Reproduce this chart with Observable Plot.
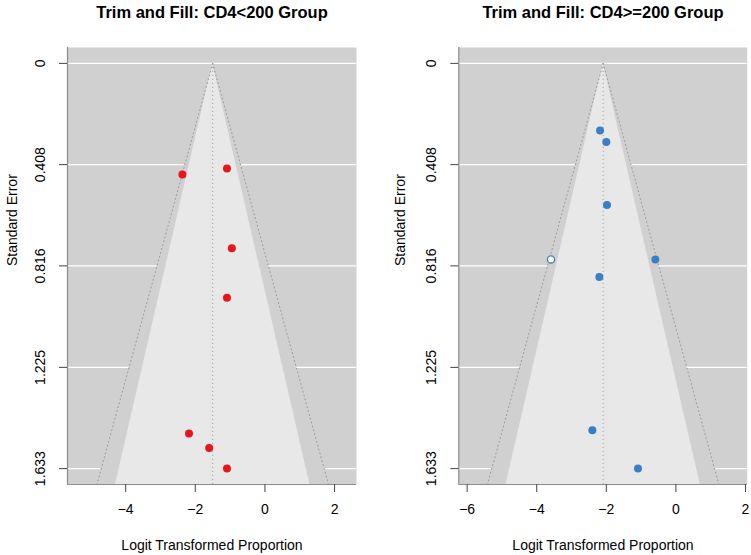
<!DOCTYPE html>
<html>
<head>
<meta charset="utf-8">
<script src="https://cdn.jsdelivr.net/npm/d3@7"></script>
<script src="https://cdn.jsdelivr.net/npm/@observablehq/plot@0.6"></script>
<style>
  html, body { margin: 0; padding: 0; background: #fff; }
  #wrap { position: relative; width: 751px; height: 555px; }
  .panel { position: absolute; top: 0; }
  .panel svg { display: block; font-family: "Liberation Sans", Arial, Helvetica, sans-serif; }
</style>
</head>
<body>
<div id="wrap">
  <div class="panel" id="left" style="left:0px"></div>
  <div class="panel" id="right" style="left:375px"></div>
</div>
<script>
// Standard-error axis (shared by both funnels)
const seTicks = [0, 0.408, 0.816, 1.225, 1.633];
const seTickLabels = ["0", "0.408", "0.816", "1.225", "1.633"];
const seRange = [1.697, -0.064];

// CD4<200 group: observed studies (logit proportion, standard error)
const lowYi = [-1.09, -2.37, -0.95, -1.09, -2.18, -1.60, -1.09];
const lowSe = [0.424, 0.448, 0.745, 0.944, 1.491, 1.550, 1.633];
const lowEstimate = -1.50;
const lowXDomain = [-5.67, 2.63];
const lowXTicks = [-4, -2, 0, 2];

// CD4>=200 group: observed studies and the study filled in by trim and fill
const highYi = [-2.18, -2.00, -1.98, -0.59, -2.20, -2.40, -1.09];
const highSe = [0.270, 0.317, 0.571, 0.790, 0.861, 1.478, 1.633];
const highFilledYi = [-3.59];
const highFilledSe = [0.790];
const highEstimate = -2.09;
const highXDomain = [-6.24, 2.05];
const highXTicks = [-6, -4, -2, 0, 2];

// Pseudo-confidence levels of the funnel (90% shaded, 95% dotted)
const z90 = 1.645;
const z95 = 1.96;

const BG = "#d0d0d0";
const INNER = "#e8e8e8";
const AXIS = "#8c8c8c";
const GUIDE = "#999999";
const LABEL_SIZE = 14;

function funnel({title, width, marginLeft, marginRight, xDomain, xTicks, estimate,
                 yi, se, fillYi = [], fillSe = [], color, labelDx}) {
  const studies = yi.map((v, i) => ({yi: v, se: se[i]}));
  const filled = fillYi.map((v, i) => ({yi: v, se: fillSe[i]}));
  const seMax = seRange[0];
  const edge = [{se: 0}, {se: seMax}];
  const ticks = seTicks.map((v, i) => ({se: v, label: seTickLabels[i]}));
  const dotted = {stroke: GUIDE, strokeWidth: 1, strokeDasharray: "1,3"};
  return Plot.plot({
    width,
    height: 555,
    marginTop: 47,
    marginBottom: 71,
    marginLeft,
    marginRight,
    style: {fontFamily: "Liberation Sans, Arial, Helvetica, sans-serif", fontSize: LABEL_SIZE + "px", color: "#000", background: "white"},
    x: {domain: xDomain, label: null},
    y: {domain: seRange, label: null},
    marks: [
      Plot.frame({fill: BG, stroke: null}),
      Plot.ruleY(seTicks, {stroke: "white", strokeWidth: 1.3}),
      // 95% region, then the 90% region on top
      Plot.areaX(edge, {y: "se", x1: d => estimate - z95 * d.se, x2: d => estimate + z95 * d.se, fill: BG}),
      Plot.areaX(edge, {y: "se", x1: d => estimate - z90 * d.se, x2: d => estimate + z90 * d.se, fill: INNER}),
      Plot.line(edge, {y: "se", x: d => estimate - z95 * d.se, ...dotted}),
      Plot.line(edge, {y: "se", x: d => estimate + z95 * d.se, ...dotted}),
      Plot.ruleX([estimate], {y1: 0, y2: seMax, ...dotted}),
      // left and bottom axis lines
      Plot.ruleX([xDomain[0]], {stroke: AXIS, strokeWidth: 1.2}),
      Plot.ruleY([seMax], {stroke: AXIS, strokeWidth: 1.2}),
      Plot.dot(studies, {x: "yi", y: "se", r: 4, fill: color, stroke: null}),
      Plot.dot(filled, {x: "yi", y: "se", r: 3.6, fill: "white", stroke: color, strokeWidth: 1.3}),
      Plot.axisX({ticks: xTicks, tickFormat: d => d < 0 ? "\u2212" + Math.abs(d) : String(d),
                  tickSize: 8, tickPadding: 12, stroke: "#444", fontSize: LABEL_SIZE}),
      Plot.axisY({ticks: seTicks, tickFormat: () => "", tickSize: 8, stroke: "#444"}),
      Plot.text(ticks, {y: "se", text: "label", frameAnchor: "left", dx: -27, rotate: -90,
                        textAnchor: "middle", lineAnchor: "middle", fontSize: LABEL_SIZE}),
      Plot.text([title], {frameAnchor: "top", dy: -35, lineAnchor: "middle", fontSize: 16.5, fontWeight: "bold"}),
      Plot.text(["Logit Transformed Proportion"], {frameAnchor: "bottom", dy: 61, lineAnchor: "middle", fontSize: LABEL_SIZE}),
      Plot.text(["Standard Error"], {frameAnchor: "left", dx: labelDx, rotate: -90, lineAnchor: "middle", fontSize: LABEL_SIZE})
    ]
  });
}

document.getElementById("left").append(funnel({
  title: "Trim and Fill: CD4<200 Group",
  width: 375, marginLeft: 67, marginRight: 19,
  xDomain: lowXDomain, xTicks: lowXTicks, estimate: lowEstimate,
  yi: lowYi, se: lowSe, color: "#e8161c", labelDx: -55
}));

document.getElementById("right").append(funnel({
  title: "Trim and Fill: CD4>=200 Group",
  width: 376, marginLeft: 83.3, marginRight: 4.3,
  xDomain: highXDomain, xTicks: highXTicks, estimate: highEstimate,
  yi: highYi, se: highSe, fillYi: highFilledYi, fillSe: highFilledSe,
  color: "#3a7fc3", labelDx: -58
}));
</script>
</body>
</html>
